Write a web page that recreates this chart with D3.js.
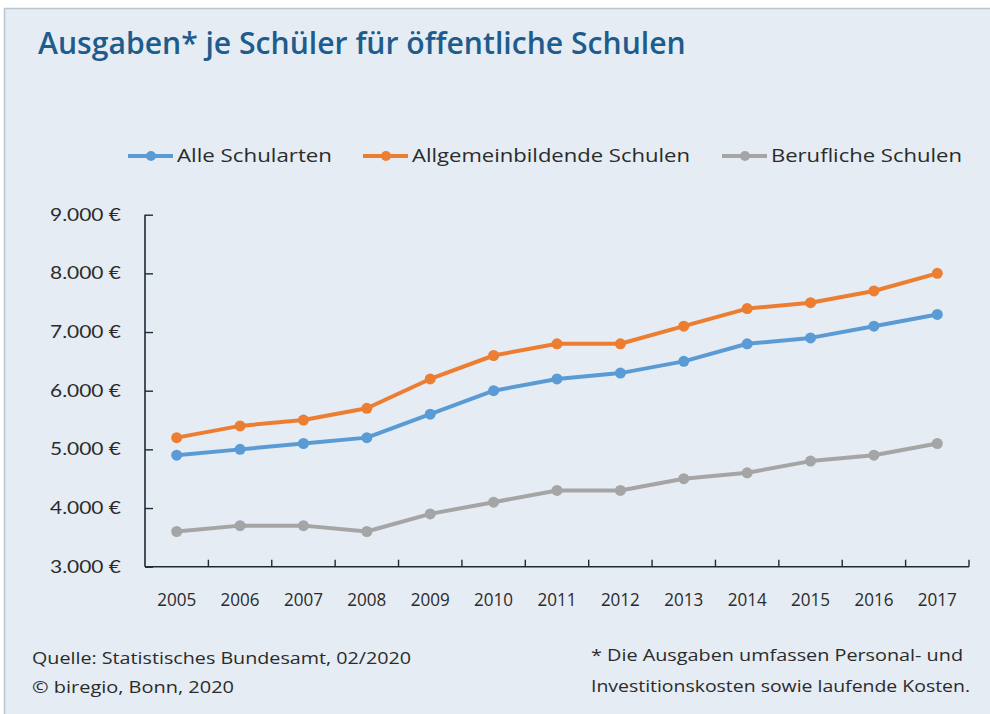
<!DOCTYPE html>
<html><head><meta charset="utf-8">
<script src="https://cdn.jsdelivr.net/npm/d3@7"></script>
<style>body{margin:0;background:#fff;} svg{display:block;}</style>
</head><body>
<svg id="c" width="990" height="714"></svg>
<script>
const years = ["2005","2006","2007","2008","2009","2010","2011","2012","2013","2014","2015","2016","2017"];
const alleSchularten = [4900,5000,5100,5200,5600,6000,6200,6300,6500,6800,6900,7100,7300];
const allgemeinbildende = [5200,5400,5500,5700,6200,6600,6800,6800,7100,7400,7500,7700,8000];
const beruflicheSchulen = [3600,3700,3700,3600,3900,4100,4300,4300,4500,4600,4800,4900,5100];
const seriesNames = ["Alle Schularten","Allgemeinbildende Schulen","Berufliche Schulen"];
const seriesColors = ["#5b9bd5","#ed7d31","#a5a5a5"];
const yTicks = [3000,4000,5000,6000,7000,8000,9000];

const svg = d3.select("#c");
const font = "'Open Sans', 'Noto Sans', sans-serif";
svg.append("rect").attr("x",4.5).attr("y",8.5).attr("width",990).attr("height",710)
  .attr("fill","#e5ecf3").attr("stroke","#b9c5d1").attr("stroke-width",1.5);

function fit(sel, w){ const n=sel.node(); const cur=n.getComputedTextLength(); const fs=parseFloat(sel.attr("font-size")); sel.attr("font-size", fs*w/cur); }

const title = svg.append("text").attr("x",38).attr("y",54).attr("font-family",font)
  .attr("font-weight",600).attr("font-size",24).attr("fill","#1d5c8c")
  .text("Ausgaben* je Schüler für öffentliche Schulen");
fit(title, 648);

const m = {l:145, r:969, t:214.7, b:566.7};
const x = d3.scaleBand().domain(years).range([m.l,m.r]);
const y = d3.scaleLinear().domain([3000,9000]).range([m.b,m.t]);

// axes
const ya = svg.append("g").attr("transform",`translate(${m.l},0)`)
  .call(d3.axisRight(y).tickValues(yTicks).tickSize(8).tickFormat(""));
ya.select(".domain").attr("stroke","#1e2a36").attr("stroke-width",1.6).attr("d",`M0,${m.t}V${m.b}`);
ya.selectAll(".tick line").attr("stroke","#1e2a36").attr("stroke-width",1.4);
svg.append("g").selectAll("text").data(yTicks).join("text")
  .attr("x",121).attr("y",d=>y(d)).attr("dy","0.35em").attr("text-anchor","end")
  .attr("font-family","Lato, 'Open Sans', sans-serif").attr("font-size",17.5).attr("fill","#2b2b2b")
  .attr("textLength",71).attr("lengthAdjust","spacingAndGlyphs")
  .text(d=>d3.format(",")(d).replace(/,/g,".")+" €");

const xa = svg.append("g").attr("transform",`translate(0,${m.b})`)
  .call(d3.axisTop(x).tickSize(0).tickFormat(""));
xa.select(".domain").attr("stroke","#1e2a36").attr("stroke-width",1.6).attr("d",`M${m.l},0H${m.r}`);
const bounds = years.map((d,i)=>x(d)+x.bandwidth());
svg.append("g").selectAll("line").data(bounds).join("line")
  .attr("x1",d=>d).attr("x2",d=>d).attr("y1",m.b).attr("y2",m.b-7)
  .attr("stroke","#1e2a36").attr("stroke-width",1.4);
svg.append("g").selectAll("text").data(years).join("text")
  .attr("x",d=>x(d)+x.bandwidth()/2).attr("y",600).attr("dy","0.35em").attr("text-anchor","middle")
  .attr("font-family",font).attr("font-size",17.5).attr("fill","#2b2b2b")
  .attr("textLength",39).attr("lengthAdjust","spacingAndGlyphs").text(d=>d);

// lines
const data = [alleSchularten, allgemeinbildende, beruflicheSchulen];
const line = d3.line().x((d,i)=>x(years[i])+x.bandwidth()/2).y(d=>y(d));
[2,0,1].forEach(k=>{
  const g = svg.append("g");
  g.append("path").attr("d",line(data[k])).attr("fill","none").attr("stroke",seriesColors[k])
    .attr("stroke-width",4).attr("stroke-linejoin","round");
  g.selectAll("circle").data(data[k]).join("circle")
    .attr("cx",(d,i)=>x(years[i])+x.bandwidth()/2).attr("cy",d=>y(d)).attr("r",5.5)
    .attr("fill",seriesColors[k]);
});

// legend
const legX = [128,363,722];
const legW = [155,278,191];
seriesNames.forEach((n,i)=>{
  const g = svg.append("g");
  g.append("line").attr("x1",legX[i]).attr("x2",legX[i]+45).attr("y1",156).attr("y2",156)
    .attr("stroke",seriesColors[i]).attr("stroke-width",4);
  g.append("circle").attr("cx",legX[i]+23).attr("cy",156).attr("r",5).attr("fill",seriesColors[i]);
  const t = g.append("text").attr("x",legX[i]+49).attr("y",156).attr("dy","0.35em")
    .attr("font-family",font).attr("font-size",18).attr("fill","#2b2b2b").text(n);
  t.attr("textLength",legW[i]).attr("lengthAdjust","spacingAndGlyphs");
});

// footer
const foot = [
  {t:"Quelle: Statistisches Bundesamt, 02/2020", x:32, y:658, w:379},
  {t:"© biregio, Bonn, 2020", x:32, y:687, w:202},
  {t:"* Die Ausgaben umfassen Personal-  und", x:591, y:655, w:372},
  {t:"Investitionskosten  sowie  laufende  Kosten.", x:591, y:686, w:379}
];
svg.append("g").selectAll("text").data(foot).join("text")
  .attr("x",d=>d.x).attr("y",d=>d.y).attr("dy","0.35em")
  .attr("font-family",font).attr("font-size",16).attr("fill","#2b2b2b")
  .attr("textLength",d=>d.w).attr("lengthAdjust","spacingAndGlyphs").text(d=>d.t);
</script>
</body></html>
